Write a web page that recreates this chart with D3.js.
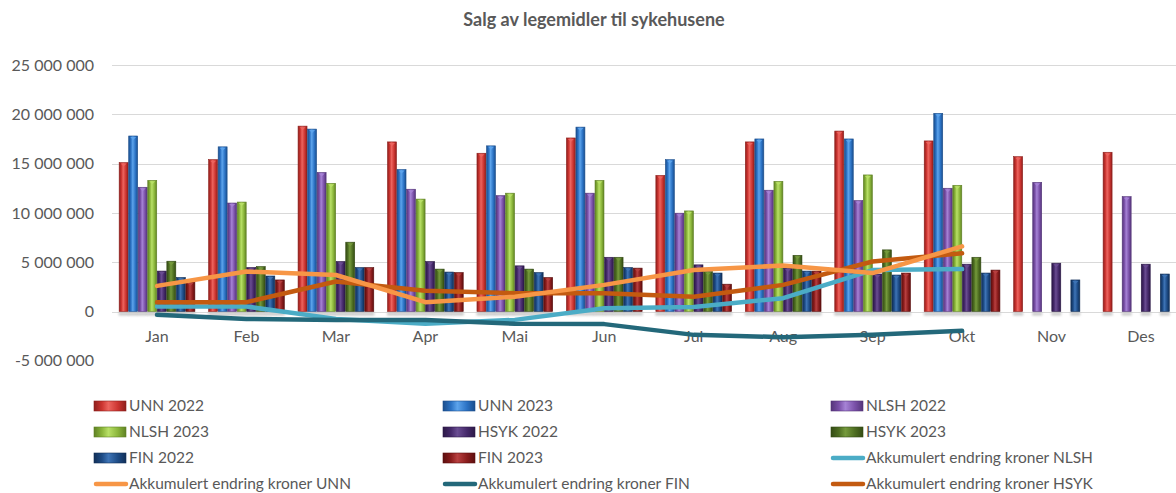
<!DOCTYPE html>
<html>
<head>
<meta charset="utf-8">
<script src="https://cdn.jsdelivr.net/npm/d3@7"></script>
<style>
	html, body { margin:0; padding:0; background:#fff; }
	svg { display:block; font-family: Lato, "Noto Sans", sans-serif; }
	.lbl { fill:#595959; font-size:16px; }
	.leg { fill:#595959; font-size:15.5px; }
</style>
</head>
<body>
<svg id="chart" width="1176" height="493"></svg>
<script>
(function(){

	var months = ["Jan","Feb","Mar","Apr","Mai","Jun","Jul","Aug","Sep","Okt","Nov","Des"];
	var yTicks = [-5000000, 0, 5000000, 10000000, 15000000, 20000000, 25000000];

	// millioner kroner, lest av bildet
	var unn2022  = [15.1, 15.4, 18.8, 17.2, 16.05, 17.6, 13.8, 17.2, 18.3, 17.3, 15.7, 16.15];
	var unn2023  = [17.8, 16.7, 18.5, 14.4, 16.8, 18.7, 15.4, 17.5, 17.5, 20.1, null, null];
	var nlsh2022 = [12.6, 11.0, 14.1, 12.4, 11.75, 12.0, 9.97, 12.3, 11.25, 12.5, 13.1, 11.65];
	var nlsh2023 = [13.3, 11.1, 13.0, 11.4, 12.0, 13.3, 10.2, 13.2, 13.85, 12.8, null, null];
	var hsyk2022 = [4.1, 4.46, 5.07, 5.07, 4.63, 5.5, 4.73, 4.4, 3.8, 4.8, 4.9, 4.8];
	var hsyk2023 = [5.1, 4.56, 7.03, 4.3, 4.3, 5.5, 4.05, 5.7, 6.25, 5.5, null, null];
	var fin2022  = [3.45, 3.6, 4.46, 4.0, 3.95, 4.46, 3.9, 4.1, 3.7, 3.9, 3.2, 3.8];
	var fin2023  = [3.0, 3.2, 4.46, 3.95, 3.45, 4.4, 2.77, 4.1, 3.9, 4.2, null, null];

	var akkNLSH = [0.5, 0.5, -0.75, -1.25, -0.85, 0.34, 0.45, 1.35, 4.2, 4.3];
	var akkUNN  = [2.6, 4.05, 3.7, 0.95, 1.5, 2.7, 4.2, 4.66, 3.9, 6.6];
	var akkFIN  = [-0.34, -0.75, -0.85, -0.85, -1.25, -1.28, -2.37, -2.6, -2.37, -1.96];
	var akkHSYK = [0.95, 0.95, 3.04, 2.1, 1.86, 1.86, 1.5, 2.7, 5.07, 5.9];

	var barSeries = [
		{name:"UNN 2022",  vals:unn2022,  base:"#CC3430", light:"#EC655F", dark:"#8E1F1C"},
		{name:"UNN 2023",  vals:unn2023,  base:"#2B72C4", light:"#5DA4EC", dark:"#1B4E8C"},
		{name:"NLSH 2022", vals:nlsh2022, base:"#7A50A8", light:"#A683D6", dark:"#543579"},
		{name:"NLSH 2023", vals:nlsh2023, base:"#8AB53A", light:"#B8E067", dark:"#5F8124"},
		{name:"HSYK 2022", vals:hsyk2022, base:"#45296A", light:"#6A4D92", dark:"#2C1947"},
		{name:"HSYK 2023", vals:hsyk2023, base:"#4E6E22", light:"#759A3C", dark:"#344B14"},
		{name:"FIN 2022",  vals:fin2022,  base:"#1D4B85", light:"#3E74B6", dark:"#112F57"},
		{name:"FIN 2023",  vals:fin2023,  base:"#8A1C1C", light:"#B84040", dark:"#5C0F0F"}
	];
	var lineSeries = {
		NLSH:{name:"Akkumulert endring kroner NLSH", vals:akkNLSH, color:"#4BACC6"},
		UNN: {name:"Akkumulert endring kroner UNN",  vals:akkUNN,  color:"#F79646"},
		FIN: {name:"Akkumulert endring kroner FIN",  vals:akkFIN,  color:"#23687A"},
		HSYK:{name:"Akkumulert endring kroner HSYK", vals:akkHSYK, color:"#C35A10"}
	};
	// rekkefølge for tegning (nederst først) og for forklaringen
	var lineDraw = ["NLSH","FIN","HSYK","UNN"];
	var legendItems = barSeries.map(function(d){return {name:d.name, bar:d}})
		.concat(["NLSH","UNN","FIN","HSYK"].map(function(k){return {name:lineSeries[k].name, line:lineSeries[k]}}));

	var svg = d3.select("#chart");
	var defs = svg.append("defs");

	var loc = d3.formatLocale({decimal:",", thousands:" ", grouping:[3], currency:["",""], minus:"-"});
	var fmt = loc.format(",.0f");

	var x = d3.scaleBand().domain(months).range([112.3, 1185.7]).paddingInner(0).paddingOuter(0);
	var x1 = d3.scaleBand().domain(barSeries.map(function(d){return d.name}))
		.range([0, x.bandwidth()]).paddingInner(0.06).paddingOuter(0.72);
	var y = d3.scaleLinear().domain([-5000000, 25000000]).range([360.8, 65]);

	// gradienter
	barSeries.forEach(function(s, i){
		var g = defs.append("linearGradient").attr("id","bg"+i).attr("x1","0").attr("x2","1").attr("y1","0").attr("y2","0");
		g.append("stop").attr("offset","0%").attr("stop-color", s.dark);
		g.append("stop").attr("offset","25%").attr("stop-color", s.base);
		g.append("stop").attr("offset","45%").attr("stop-color", s.light);
		g.append("stop").attr("offset","75%").attr("stop-color", s.base);
		g.append("stop").attr("offset","100%").attr("stop-color", s.dark);
		s.grad = "url(#bg"+i+")";
	});
	var blur = defs.append("filter").attr("id","shadowBlur").attr("x","-50%").attr("y","-100%").attr("width","200%").attr("height","300%");
	blur.append("feGaussianBlur").attr("stdDeviation", 1.2);

	// tittel
	svg.append("text").attr("x", 594).attr("y", 26).attr("text-anchor","middle")
		.style("font-size","18px").style("font-weight","bold").attr("fill","#595959")
		.text("Salg av legemidler til sykehusene");

	// rutenett
	svg.append("g").selectAll("line").data(yTicks).enter().append("line")
		.attr("x1", 112).attr("x2", 1176)
		.attr("y1", function(d){return Math.round(y(d))+0.5}).attr("y2", function(d){return Math.round(y(d))+0.5})
		.attr("stroke","#D9D9D9").attr("stroke-width",1)
		.style("display", function(d){return d < 0 ? "none" : null});

	svg.append("g").selectAll("text").data(yTicks).enter().append("text")
		.attr("class","lbl").attr("x", 94).attr("y", function(d){return y(d)}).attr("dy","0.35em")
		.attr("text-anchor","end").text(function(d){return fmt(d)});

	// søyler
	var groups = svg.append("g").selectAll("g").data(barSeries).enter().append("g");
	groups.each(function(s){
		var g = d3.select(this);
		var pts = s.vals.map(function(v,i){return {m:months[i], v:v}}).filter(function(d){return d.v !== null});
		var bx = function(d){return x(d.m) + x1(s.name)};
		var bw = x1.bandwidth();
		g.selectAll("rect.sh").data(pts).enter().append("rect").attr("class","sh")
			.attr("x", function(d){return bx(d) - 0.5}).attr("width", bw + 1)
			.attr("y", y(0) + 1).attr("height", 3)
			.attr("fill","#9a9a9a").attr("opacity",0.55).attr("filter","url(#shadowBlur)");
		g.selectAll("rect.bar").data(pts).enter().append("rect").attr("class","bar")
			.attr("x", bx).attr("width", bw)
			.attr("y", function(d){return y(d.v * 1e6)})
			.attr("height", function(d){return y(0) - y(d.v * 1e6)})
			.attr("fill", s.grad).attr("stroke", s.dark).attr("stroke-width", 0.6);
		g.selectAll("path.tip").data(pts).enter().append("path").attr("class","tip")
			.attr("d", function(d){
				var cx = bx(d) + bw/2, ty = y(d.v * 1e6) + 1;
				return "M" + (cx-3) + "," + ty + " L" + (cx+3) + "," + ty + " L" + cx + "," + (ty+3) + " Z";
			})
			.attr("fill", s.light).attr("opacity", 0.9);
	});

	// månedsnavn
	svg.append("g").selectAll("text").data(months).enter().append("text")
		.attr("class","lbl").attr("x", function(d){return x(d) + x.bandwidth()/2}).attr("y", 342)
		.attr("text-anchor","middle").text(function(d){return d});

	// linjer
	var line = d3.line()
		.x(function(d,i){return x(months[i]) + x.bandwidth()/2})
		.y(function(d){return y(d * 1e6)});
	svg.append("g").selectAll("path").data(lineDraw.map(function(k){return lineSeries[k]})).enter().append("path")
		.attr("d", function(d){return line(d.vals)})
		.attr("fill","none").attr("stroke", function(d){return d.color})
		.attr("stroke-width", 4.5).attr("stroke-linejoin","round").attr("stroke-linecap","round");

	// forklaring
	var colX = [94, 443, 831];
	var rowY = [406, 432, 458, 484];
	var leg = svg.append("g").selectAll("g").data(legendItems).enter().append("g")
		.attr("transform", function(d,i){return "translate(" + colX[i % 3] + "," + rowY[Math.floor(i / 3)] + ")"});
	leg.each(function(d){
		var g = d3.select(this);
		if(d.bar){
			g.append("rect").attr("x", 0).attr("y", -5).attr("width", 32).attr("height", 10)
				.attr("fill", d.bar.grad).attr("stroke", d.bar.dark).attr("stroke-width", 0.6);
		}
		else{
			g.append("line").attr("x1", 2).attr("x2", 32).attr("y1", 0).attr("y2", 0)
				.attr("stroke", d.line.color).attr("stroke-width", 4.5).attr("stroke-linecap","round");
		}
		g.append("text").attr("class","leg").attr("x", 35).attr("y", 0).attr("dy","0.35em").text(d.name);
	});

})();
</script>
</body>
</html>
